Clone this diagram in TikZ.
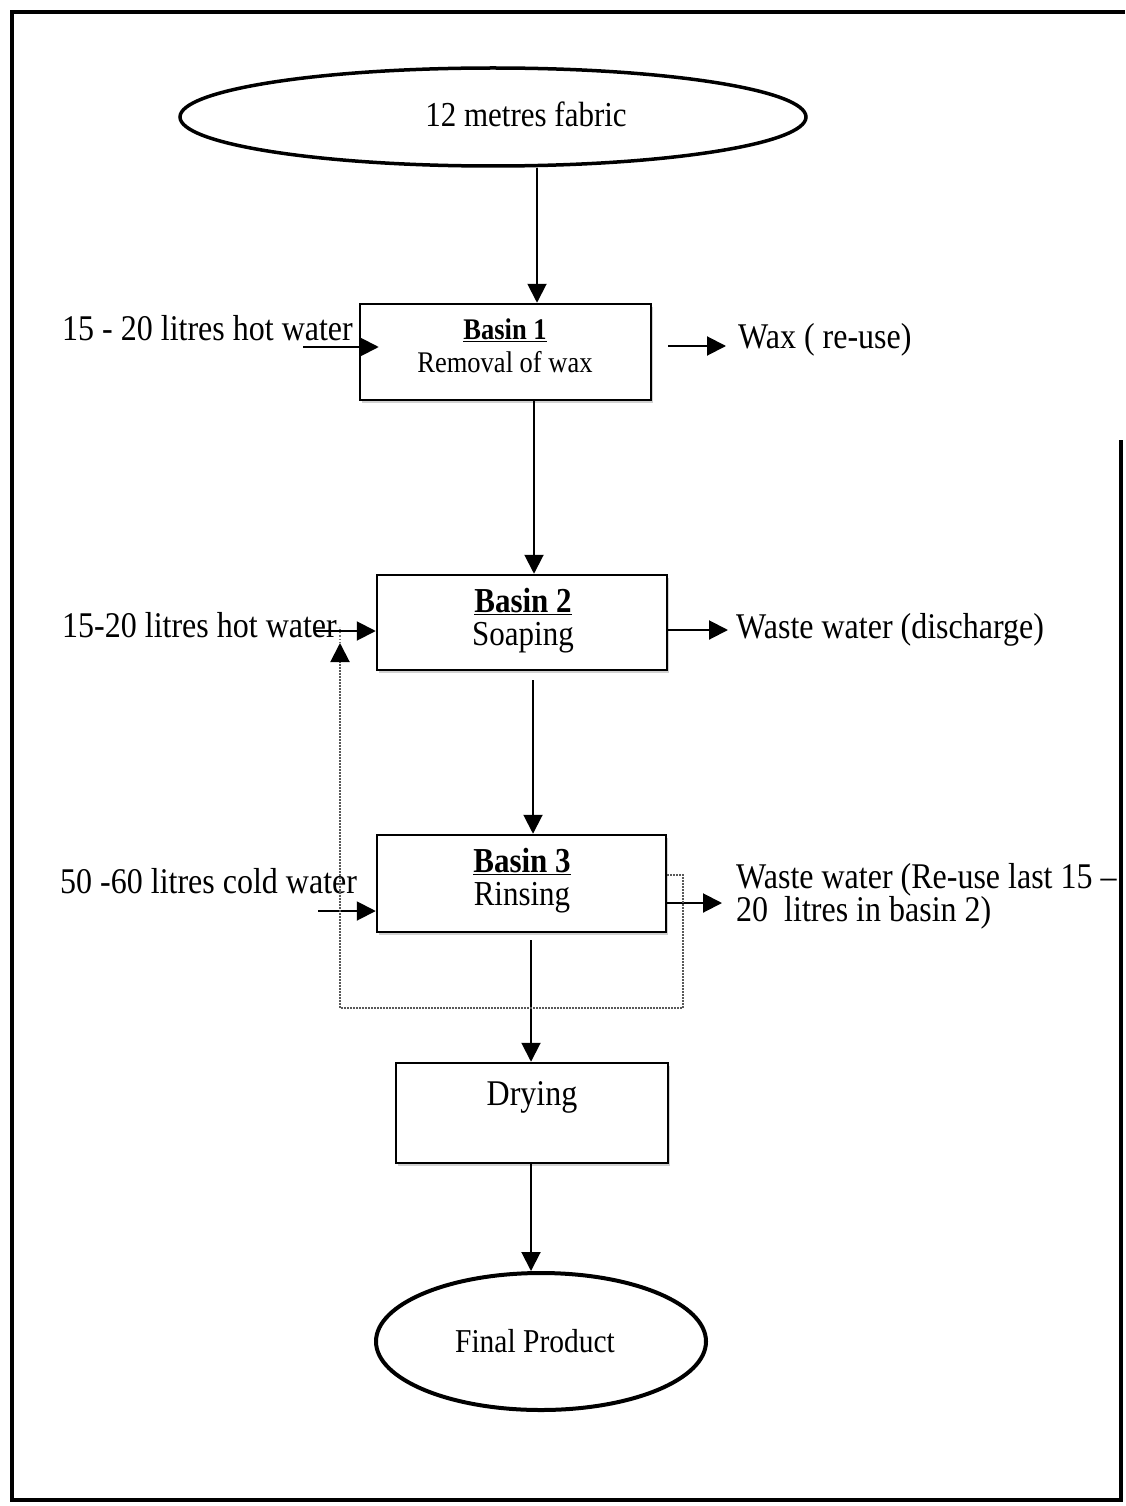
\documentclass[tikz,border=0pt]{standalone}
\usepackage{graphicx}
\usepackage{fontspec}
\setmainfont{Liberation Serif}
\usetikzlibrary{arrows.meta,shapes.geometric,shadows}
\newcommand{\tallt}[1]{\scalebox{1}[1.13]{#1}}
\begin{document}
\begin{tikzpicture}[x=1pt,y=-1pt,
  box/.style={draw, line width=2.5pt, fill=white, inner sep=0pt,
    drop shadow={shadow xshift=2pt, shadow yshift=-3pt, fill=gray!60, opacity=0.6}},
  ell/.style={ellipse, draw, line width=3.5pt, inner sep=0pt},
  txt/.style={inner sep=0pt, font=\fontsize{32}{38}\selectfont},
  txtA/.style={inner sep=0pt, font=\fontsize{26.5}{30}\selectfont},
  txtB/.style={inner sep=0pt, font=\fontsize{31}{36}\selectfont},
  txtC/.style={inner sep=0pt, font=\fontsize{29.5}{34}\selectfont},
  arr/.style={line width=2pt, -{Triangle[length=19pt,width=19pt]}},
  fb/.style={line width=2pt, black!65, dash pattern=on 1.5pt off 1.5pt,
    -{Triangle[length=19pt,width=19pt,color=black]}},
  fbdot/.style={line width=1.5pt, black!55, dash pattern=on 1.2pt off 2pt}
]
\useasboundingbox (0,0) rectangle (1125,1506);

% outer frame
\draw[line width=4pt] (1121,440) -- (1121,1500) -- (12,1500) -- (12,12) -- (1125,12);

% main nodes
\node[ell, minimum width=626pt, minimum height=98pt] (e1) at (493,117) {};
\node[txtB, anchor=base] (e1t) at (526,127) {\tallt{12 metres fabric}};

\node[box, minimum width=291pt, minimum height=96pt] (b1) at (505.5,352) {};
\node[txtA, anchor=base] (b1a) at (505,339) {\tallt{\underline{\textbf{Basin 1}}}};
\node[txtA, anchor=base] (b1b) at (505,372) {\tallt{Removal of wax}};

\node[box, minimum width=290pt, minimum height=95pt] (b2) at (522,622.5) {};
\node[txtB, anchor=base] (b2a) at (523,612) {\tallt{\underline{\textbf{Basin 2}}}};
\node[txtB, anchor=base] (b2b) at (523,645) {\tallt{Soaping}};

\node[box, minimum width=289pt, minimum height=97pt] (b3) at (521.5,883.5) {};
\node[txtB, anchor=base] (b3a) at (522,872) {\tallt{\underline{\textbf{Basin 3}}}};
\node[txtB, anchor=base] (b3b) at (522,905) {\tallt{Rinsing}};

\node[box, minimum width=272pt, minimum height=100pt] (dry) at (532,1113) {};
\node[txt, anchor=base] (dryt) at (532,1105) {\tallt{Drying}};

\node[ell, line width=4pt, minimum width=330pt, minimum height=137pt] (e2) at (541,1341.5) {};
\node[txtC, anchor=base] (e2t) at (535,1352) {\tallt{Final Product}};

% side labels
\node[txt, anchor=base west] (L1) at (62,340) {\tallt{15 - 20 litres hot water}};
\node[txt, anchor=base west] (L2) at (62,637) {\tallt{15-20 litres hot water}};
\node[txt, anchor=base west] (L3) at (60,893) {\tallt{50 -60 litres cold water}};
\node[txt, anchor=base west] (R1) at (738,348) {\tallt{Wax ( re-use)}};
\node[txt, anchor=base west] (R2) at (736,638) {\tallt{Waste water (discharge)}};
\node[txt, anchor=base west] (R3a) at (736,888) {\tallt{Waste water (Re-use last 15 –}};
\node[txt, anchor=base west] (R3b) at (736,921) {\tallt{20\ \ litres in basin 2)}};

% helper coordinates
\coordinate (v1) at (537,0);
\coordinate (v2) at (534,0);
\coordinate (s3) at (533,680);
\coordinate (s4) at (531,940);
\coordinate (v5) at (531,0);
\coordinate (l1) at (303,347);
\coordinate (l2) at (315,631);
\coordinate (l3) at (318,911);
\coordinate (r1) at (668,346);
\coordinate (r2) at (0,630);
\coordinate (r3) at (0,903);
\coordinate (fb1) at (683,875);
\coordinate (fb2) at (683,1008);
\coordinate (fb3) at (340,1008);
\coordinate (fb4) at (340,643);
\coordinate (fb5) at (340,627);

% main flow
\draw[arr] (e1.south -| v1) -- (b1.north -| v1);
\draw[arr] (b1.south -| v2) -- (b2.north -| v2);
\draw[arr] (s3) -- (b3.north -| s3);
\draw[arr] (s4) -- (dry.north -| s4);
\draw[arr] (dry.south -| v5) -- (e2.north -| v5);

% inputs
\draw[arr] (l1) -- ([xshift=20pt]l1 -| b1.west);
\draw[arr] (l2) -- (l2 -| b2.west);
\draw[arr] (l3) -- (l3 -| b3.west);

% outputs
\draw[arr] (r1) -- ([xshift=-12pt]r1 -| R1.west);
\draw[arr] (b2.east |- r2) -- ([xshift=-8pt]r2 -| R2.west);
\draw[arr] (b3.east |- r3) -- ([xshift=-14pt]r3 -| R3a.west);

% recycle loop
\draw[fb] (b3.east |- fb1) -- (fb1) -- (fb2) -- (fb3) -- (fb4);
\draw[fbdot] (fb4) -- (fb5);
\end{tikzpicture}
\end{document}
